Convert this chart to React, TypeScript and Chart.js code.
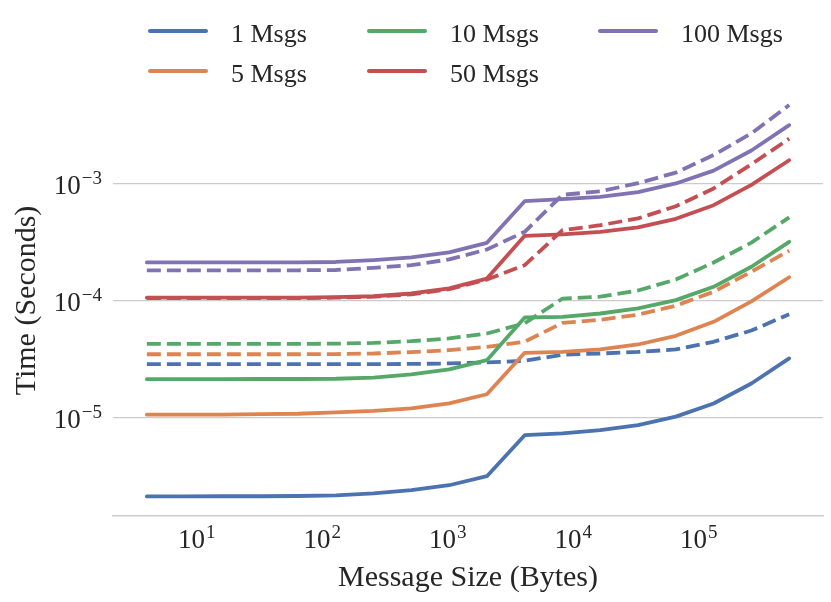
import React, { useEffect, useRef } from 'react';
import {
    Chart,
    LineController,
    LineElement,
    PointElement,
    LogarithmicScale,
} from 'chart.js';

Chart.register(LineController, LineElement, PointElement, LogarithmicScale);

const FONT = "'Liberation Serif', 'Times New Roman', serif";
const TEXT = '#262626';
const GRID = '#cccccc';

// message sizes in bytes (x axis)
const SIZES = [
    4, 8, 16, 32, 64, 128, 256, 512, 1024, 2048,
    4096, 8192, 16384, 32768, 65536, 131072, 262144, 524288,
];

const X_TICKS = [1e1, 1e2, 1e3, 1e4, 1e5];
const Y_TICKS = [1e-5, 1e-4, 1e-3];

const LABELS = ['1 Msgs', '5 Msgs', '10 Msgs', '50 Msgs', '100 Msgs'];
const COLORS = ['#4C72B0', '#DD8452', '#55A868', '#C44E52', '#8172B3'];

// solid lines (seconds)
const SOLID_1 = [
    2.10e-6, 2.10e-6, 2.11e-6, 2.11e-6, 2.12e-6, 2.15e-6, 2.23e-6, 2.38e-6, 2.62e-6,
    3.13e-6, 7.01e-6, 7.26e-6, 7.74e-6, 8.55e-6, 1.01e-5, 1.31e-5, 1.94e-5, 3.18e-5,
];
const SOLID_5 = [
    1.05e-5, 1.05e-5, 1.05e-5, 1.06e-5, 1.07e-5, 1.10e-5, 1.13e-5, 1.19e-5, 1.31e-5,
    1.57e-5, 3.55e-5, 3.61e-5, 3.79e-5, 4.18e-5, 4.96e-5, 6.53e-5, 9.75e-5, 1.57e-4,
];
const SOLID_10 = [
    2.11e-5, 2.11e-5, 2.11e-5, 2.12e-5, 2.12e-5, 2.13e-5, 2.18e-5, 2.32e-5, 2.56e-5,
    3.07e-5, 7.11e-5, 7.21e-5, 7.69e-5, 8.49e-5, 1.00e-4, 1.30e-4, 1.93e-4, 3.15e-4,
];
const SOLID_50 = [
    1.05e-4, 1.05e-4, 1.05e-4, 1.05e-4, 1.05e-4, 1.06e-4, 1.08e-4, 1.14e-4, 1.26e-4,
    1.53e-4, 3.55e-4, 3.65e-4, 3.84e-4, 4.19e-4, 4.96e-4, 6.48e-4, 9.68e-4, 1.57e-3,
];
const SOLID_100 = [
    2.10e-4, 2.10e-4, 2.10e-4, 2.10e-4, 2.10e-4, 2.12e-4, 2.20e-4, 2.32e-4, 2.56e-4,
    3.09e-4, 7.01e-4, 7.29e-4, 7.63e-4, 8.38e-4, 9.94e-4, 1.28e-3, 1.90e-3, 3.13e-3,
];

// dashed lines (seconds)
const DASHED_1 = [
    2.84e-5, 2.84e-5, 2.84e-5, 2.84e-5, 2.84e-5, 2.84e-5, 2.84e-5, 2.85e-5, 2.88e-5,
    2.94e-5, 3.03e-5, 3.42e-5, 3.50e-5, 3.61e-5, 3.79e-5, 4.41e-5, 5.50e-5, 7.58e-5,
];
const DASHED_5 = [
    3.45e-5, 3.45e-5, 3.45e-5, 3.45e-5, 3.45e-5, 3.46e-5, 3.50e-5, 3.60e-5, 3.74e-5,
    3.99e-5, 4.41e-5, 6.40e-5, 6.79e-5, 7.52e-5, 8.97e-5, 1.18e-4, 1.75e-4, 2.65e-4,
];
const DASHED_10 = [
    4.23e-5, 4.23e-5, 4.23e-5, 4.23e-5, 4.23e-5, 4.25e-5, 4.31e-5, 4.46e-5, 4.71e-5,
    5.19e-5, 6.35e-5, 1.03e-4, 1.07e-4, 1.21e-4, 1.50e-4, 2.10e-4, 3.10e-4, 5.10e-4,
];
const DASHED_50 = [
    1.04e-4, 1.04e-4, 1.04e-4, 1.04e-4, 1.04e-4, 1.05e-4, 1.07e-4, 1.12e-4, 1.24e-4,
    1.50e-4, 1.99e-4, 3.96e-4, 4.37e-4, 5.00e-4, 6.35e-4, 9.00e-4, 1.45e-3, 2.40e-3,
];
const DASHED_100 = [
    1.80e-4, 1.80e-4, 1.80e-4, 1.80e-4, 1.80e-4, 1.81e-4, 1.89e-4, 1.99e-4, 2.23e-4,
    2.71e-4, 3.84e-4, 7.95e-4, 8.50e-4, 1.00e-3, 1.23e-3, 1.74e-3, 2.66e-3, 4.65e-3,
];

const SOLID = [SOLID_1, SOLID_5, SOLID_10, SOLID_50, SOLID_100];
const DASHED = [DASHED_1, DASHED_5, DASHED_10, DASHED_50, DASHED_100];

// legend grid (3 columns, filled column first like matplotlib)
const LEGEND_COLS = [148, 367, 598];
const LEGEND_ROWS = [31, 71];

const BASE_FONT = `27px ${FONT}`;
const EXP_FONT = `19px ${FONT}`;

const exponentOf = (v: number) => String(Math.round(Math.log10(v))).replace('-', '\u2212');

// draws "10" with a raised exponent at each tick, placed through the scales
const powerTicks = {
    id: 'powerTicks',
    afterDraw(chart: any) {
        const { ctx, scales } = chart;
        ctx.save();
        ctx.fillStyle = TEXT;
        ctx.textAlign = 'left';
        ctx.textBaseline = 'alphabetic';

        const measure = (exp: string) => {
            ctx.font = BASE_FONT;
            const w1 = ctx.measureText('10').width;
            ctx.font = EXP_FONT;
            const w2 = ctx.measureText(exp).width;
            return [w1, w2];
        };
        const put = (exp: string, left: number, baseline: number, w1: number) => {
            ctx.font = BASE_FONT;
            ctx.fillText('10', left, baseline);
            ctx.font = EXP_FONT;
            ctx.fillText(exp, left + w1 + 1, baseline - 10);
        };

        const xs = scales.x;
        X_TICKS.forEach((v) => {
            const exp = exponentOf(v);
            const [w1, w2] = measure(exp);
            const px = xs.getPixelForValue(v);
            put(exp, px - (w1 + w2 + 1) / 2, xs.top + 32, w1);
        });

        const ys = scales.y;
        Y_TICKS.forEach((v) => {
            const exp = exponentOf(v);
            const [w1, w2] = measure(exp);
            const py = ys.getPixelForValue(v);
            put(exp, ys.right - 11 - (w1 + w2 + 1), py + 11, w1);
        });
        ctx.restore();
    },
};

const App: React.FC = () => {
    const canvasRef = useRef<HTMLCanvasElement>(null);
    const chartRef = useRef<Chart | null>(null);

    useEffect(() => {
        if (!canvasRef.current) return;
        chartRef.current?.destroy();

        const toPoints = (vals: number[]) => vals.map((y, j) => ({ x: SIZES[j], y }));

        const datasets: any[] = [
            ...SOLID.map((vals, i) => ({
                label: LABELS[i],
                data: toPoints(vals),
                borderColor: COLORS[i],
                borderWidth: 3.8,
                borderCapStyle: 'round',
                borderJoinStyle: 'round',
                pointRadius: 0,
                tension: 0,
                fill: false,
            })),
            ...DASHED.map((vals, i) => ({
                label: LABELS[i] + ' (dashed)',
                data: toPoints(vals),
                borderColor: COLORS[i],
                borderWidth: 3.8,
                borderDash: [14, 6],
                borderCapStyle: 'butt',
                borderJoinStyle: 'round',
                pointRadius: 0,
                tension: 0,
                fill: false,
            })),
        ];

        chartRef.current = new Chart(canvasRef.current, {
            type: 'line',
            data: { datasets },
            plugins: [powerTicks],
            options: {
                responsive: false,
                maintainAspectRatio: false,
                animation: false,
                layout: { padding: { top: 85, right: 8, bottom: 0, left: 0 } },
                plugins: {
                    legend: { display: false },
                    tooltip: { enabled: false },
                },
                scales: {
                    x: {
                        type: 'logarithmic',
                        min: 2.15,
                        max: 9.75e5,
                        bounds: 'data',
                        afterBuildTicks: (s: any) => { s.ticks = X_TICKS.map((value) => ({ value })); },
                        afterFit: (s: any) => { s.height = 86; },
                        grid: { display: false },
                        border: { display: true, color: GRID, width: 1.5 },
                        ticks: { display: false },
                        title: {
                            display: true,
                            text: 'Message Size (Bytes)',
                            color: TEXT,
                            font: { family: FONT, size: 30 },
                            padding: { top: 0, bottom: 6 },
                        },
                    },
                    y: {
                        type: 'logarithmic',
                        min: 1.43e-6,
                        max: 6.9e-3,
                        bounds: 'data',
                        afterBuildTicks: (s: any) => { s.ticks = Y_TICKS.map((value) => ({ value })); },
                        afterFit: (s: any) => { s.width = 113; },
                        grid: { color: GRID, lineWidth: 1.25, drawTicks: false },
                        border: { display: false },
                        ticks: { display: false },
                        title: {
                            display: true,
                            text: 'Time (Seconds)',
                            color: TEXT,
                            font: { family: FONT, size: 30 },
                            padding: { top: 9, bottom: 0 },
                        },
                    },
                },
            } as any,
        });

        return () => { chartRef.current?.destroy(); };
    }, []);

    return (
        <div style={{ position: 'absolute', left: 0, top: 0, width: 831, height: 602, background: '#fff' }}>
            <canvas ref={canvasRef} width={831} height={602} />
            {LABELS.map((label, k) => {
                const left = LEGEND_COLS[Math.floor(k / 2)];
                const cy = LEGEND_ROWS[k % 2];
                return (
                    <React.Fragment key={label}>
                        <div style={{ position: 'absolute', left, top: cy - 2, width: 60, height: 4, borderRadius: 2, background: COLORS[k] }} />
                        <div style={{ position: 'absolute', left: left + 83, top: cy - 10.5, fontFamily: FONT, fontSize: 26, lineHeight: '26px', color: TEXT, whiteSpace: 'nowrap' }}>
                            {label}
                        </div>
                    </React.Fragment>
                );
            })}
        </div>
    );
};

export default App;
